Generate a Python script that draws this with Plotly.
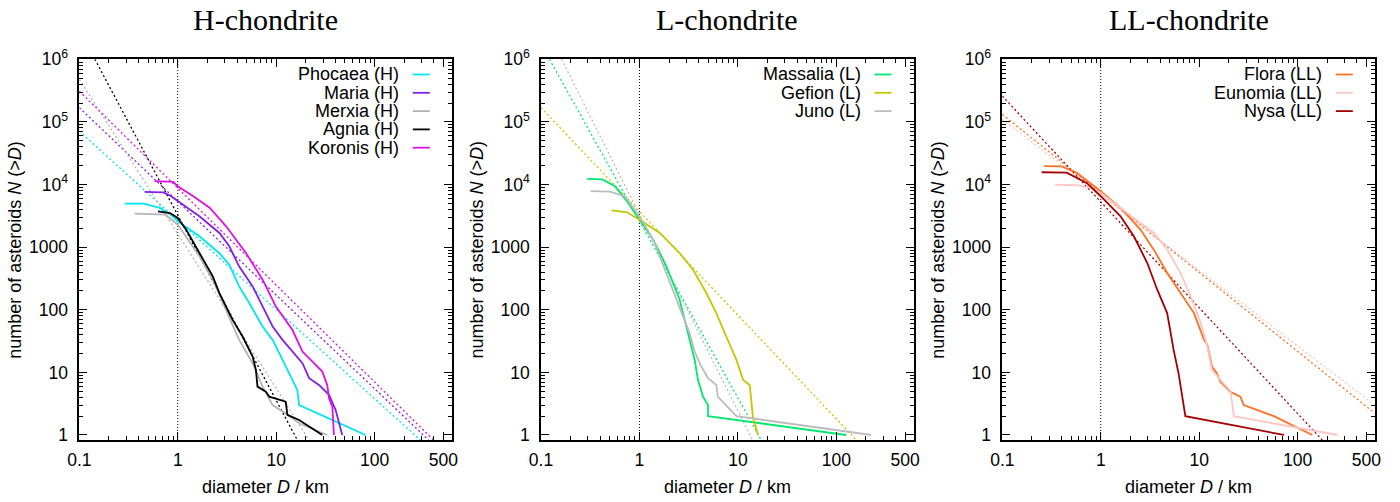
import plotly.graph_objects as go

# ---------------- data ----------------
# Panel 1: H-chondrite
phocaea_D = [0.29, 0.45, 0.66, 0.834, 1.0, 1.66, 2.65, 3.34, 4.2, 5.33, 7.28, 9.2, 11.6, 14.6, 16.4, 17.1, 80.8]
phocaea_N = [4960, 4940, 4230, 3400, 2590, 1490, 800, 525, 236, 128, 54, 33, 15.8, 7.6, 5.25, 3.0, 1.0]
maria_D = [0.46, 0.71, 0.834, 1.0, 1.66, 2.65, 3.34, 4.2, 5.77, 7.28, 9.2, 11.6, 14.6, 18.5, 21.6, 27.2, 34.4, 40.2, 46.9]
maria_N = [7640, 7500, 6670, 5410, 3110, 1685, 1030, 493, 236, 113, 54, 33, 21.5, 14, 8.07, 6.3, 4.37, 2.5, 1.0]
merxia_D = [0.366, 0.75, 1.0, 1.66, 2.27, 3.1, 4.2, 5.77, 7.28, 9.2, 12.5, 17.1, 33.0]
merxia_N = [3440, 3300, 2290, 713, 302, 100, 33, 14, 5.9, 3.0, 2.2, 1.54, 1.0]
agnia_D = [0.63, 0.834, 1.0, 1.22, 1.66, 2.27, 2.65, 3.1, 3.61, 4.56, 5.77, 6.22, 6.46, 7.85, 8.5, 12.5, 13.0, 17.1, 29.4]
agnia_N = [3740, 3500, 2930, 1905, 807, 341, 185, 113, 69, 37.4, 17.9, 11, 5.93, 4.93, 4.1, 3.4, 2.09, 1.74, 1.0]
koronis_D = [0.583, 0.9, 1.0, 1.44, 2.12, 3.1, 4.93, 7.28, 9.93, 14.6, 18.5, 23.3, 29.4, 33.0, 34.4, 37.2, 38.6]
koronis_N = [11300, 11000, 9400, 6500, 4230, 2150, 807, 302, 113, 47.9, 21.5, 14.9, 10.3, 6.3, 3.86, 2.84, 1.0]

# power-law fits (end points)
phocaea_fit_D, phocaea_fit_N = [0.1, 291], [7.1e4, 0.83]
maria_fit_D, maria_fit_N = [0.1, 353], [1.69e5, 0.83]
merxia_fit_D, merxia_fit_N = [0.1, 21.6], [4.8e5, 0.83]
agnia_fit_D, agnia_fit_N = [0.144, 16.4], [1e6, 0.83]
koronis_fit_D, koronis_fit_N = [0.1, 397], [3.1e5, 0.83]

# Panel 2: L-chondrite
massalia_D = [0.295, 0.42, 0.564, 0.77, 1.0, 1.38, 1.88, 2.56, 3.24, 3.64, 3.93, 4.42, 4.97, 4.97, 126]
massalia_N = [12300, 12100, 9400, 5090, 2750, 1320, 493, 145, 33, 15.8, 7.6, 4.1, 3.0, 2.0, 1.0]
gefion_D = [0.521, 0.75, 1.0, 1.61, 2.56, 3.5, 4.78, 6.04, 7.62, 9.66, 11.3, 13.2, 14.2, 16.0]
gefion_N = [3880, 3600, 2750, 1685, 807, 437, 185, 88.5, 37.4, 15.8, 7.6, 6.3, 1.96, 1.0]
juno_D = [0.319, 0.5, 0.71, 1.0, 1.38, 1.88, 2.56, 3.24, 3.64, 4.25, 4.98, 6.04, 6.25, 9.66, 226]
juno_N = [7820, 7700, 6500, 3110, 1320, 386, 113, 42, 21.5, 12.4, 8.1, 6.3, 4.1, 2.0, 1.0]

massalia_fit_D, massalia_fit_N = [0.122, 17.3], [1e6, 0.83]
gefion_fit_D, gefion_fit_N = [0.1, 160], [1.69e5, 0.83]
juno_fit_D, juno_fit_N = [0.162, 14.1], [1e6, 0.83]

# Panel 3: LL-chondrite
flora_D = [0.266, 0.4, 0.571, 1.0, 1.59, 2.53, 3.46, 4.73, 6.47, 8.85, 11.2, 12.1, 13.5, 15.1, 16.4, 20.7, 26.2, 28.4, 57.4, 141]
flora_N = [19650, 19500, 15400, 7820, 4230, 1905, 912, 386, 185, 88.5, 33, 27.5, 12.4, 9.7, 7.1, 4.9, 4.1, 3.0, 2.0, 1.0]
eunomia_D = [0.344, 0.6, 0.8, 1.0, 1.59, 2.53, 3.46, 4.73, 6.47, 8.18, 10.4, 12.1, 13.5, 16.4, 20.8, 22.5, 254]
eunomia_N = [10000, 9700, 8800, 7360, 4230, 2440, 1685, 912, 386, 163, 61, 25.9, 11, 7.6, 5.0, 2.0, 1.0]
nysa_D = [0.251, 0.45, 0.72, 1.0, 1.59, 2.17, 2.97, 3.75, 4.73, 5.5, 6.17, 6.7, 7.24, 72.6]
nysa_N = [15700, 15500, 10600, 6500, 3110, 1490, 558, 209, 88.5, 22.9, 9.7, 4.1, 2.0, 1.0]

flora_fit_D, flora_fit_N = [0.1, 608], [1.32e5, 2.22]
eunomia_fit_D, eunomia_fit_N = [0.1, 608], [1.1e5, 3.0]
nysa_fit_D, nysa_fit_N = [0.1, 178], [2.59e5, 0.83]

panel_titles = ["H-chondrite", "L-chondrite", "LL-chondrite"]
x_tickvals = [0.1, 1, 10, 100, 500]
x_ticktext = ["0.1", "1", "10", "100", "500"]
y_tickvals = [1, 10, 100, 1000, 1e4, 1e5, 1e6]
y_ticktext = ["1", "10", "100", "1000", "10<sup>4</sup>", "10<sup>5</sup>", "10<sup>6</sup>"]

panels = [
    [("Phocaea (H)", phocaea_D, phocaea_N, phocaea_fit_D, phocaea_fit_N, "#00e6ee"),
     ("Maria (H)", maria_D, maria_N, maria_fit_D, maria_fit_N, "#8420e4"),
     ("Merxia (H)", merxia_D, merxia_N, merxia_fit_D, merxia_fit_N, "#b4b4b4"),
     ("Agnia (H)", agnia_D, agnia_N, agnia_fit_D, agnia_fit_N, "#000000"),
     ("Koronis (H)", koronis_D, koronis_N, koronis_fit_D, koronis_fit_N, "#e010e4")],
    [("Massalia (L)", massalia_D, massalia_N, massalia_fit_D, massalia_fit_N, "#00e870"),
     ("Gefion (L)", gefion_D, gefion_N, gefion_fit_D, gefion_fit_N, "#c8c400"),
     ("Juno (L)", juno_D, juno_N, juno_fit_D, juno_fit_N, "#bcbcbc")],
    [("Flora (LL)", flora_D, flora_N, flora_fit_D, flora_fit_N, "#ff7020"),
     ("Eunomia (LL)", eunomia_D, eunomia_N, eunomia_fit_D, eunomia_fit_N, "#ffc4c4"),
     ("Nysa (LL)", nysa_D, nysa_N, nysa_fit_D, nysa_fit_N, "#a40000")],
]

# ---------------- layout geometry ----------------
W, H = 1400, 502
left_px = [79.3, 541.0, 1002.3]
pw = 372.5
top_px, bot_px = 59.3, 440.0
ydom = [1 - bot_px / H, 1 - top_px / H]

FONT = "Liberation Sans, Arial, Helvetica, sans-serif"
SERIF = "Liberation Serif, Times New Roman, serif"

minor_x = []
for dec in [0.1, 1, 10, 100]:
    for k in range(2, 10):
        minor_x.append(k * dec)
minor_y = []
for dec in [1, 10, 100, 1000, 1e4, 1e5]:
    for k in range(2, 10):
        minor_y.append(k * dec)

fig = go.Figure()
annotations = []
shapes = []

for i, series in enumerate(panels):
    n = "" if i == 0 else str(i + 1)
    xa, ya = "x" + n, "y" + n
    # fit lines first
    for name, D, N, fD, fN, col in series:
        fig.add_trace(go.Scatter(x=fD, y=fN, xaxis=xa, yaxis=ya, mode="lines",
                                 line=dict(color=col, width=1.3, dash="2px,2.5px"),
                                 showlegend=False, hoverinfo="skip"))
    for name, D, N, fD, fN, col in series:
        fig.add_trace(go.Scatter(x=D, y=N, xaxis=xa, yaxis=ya, mode="lines",
                                 line=dict(color=col, width=1.8),
                                 name=name, showlegend=False))
    x0 = left_px[i] / W
    x1 = (left_px[i] + pw) / W
    axcommon = dict(type="log", showline=True, linecolor="black", linewidth=1.5,
                    mirror="allticks", ticks="inside", ticklen=8, tickwidth=1,
                    tickcolor="black", showgrid=False, zeroline=False, automargin=False,
                    tickfont=dict(family=FONT, size=17.5, color="black"),
                    tickmode="array")
    fig.update_layout(**{
        "xaxis" + n: dict(axcommon, domain=[x0, x1], range=[-1, 2.784], anchor=ya,
                          tickvals=x_tickvals, ticktext=x_ticktext, ticklabelstandoff=3,
                          minor=dict(ticks="inside", ticklen=4, tickvals=minor_x,
                                     tickcolor="black", tickwidth=1, showgrid=False)),
        "yaxis" + n: dict(axcommon, domain=ydom, range=[-0.08, 6.0], anchor=xa,
                          tickvals=y_tickvals, ticktext=y_ticktext, ticklabelstandoff=6,
                          minor=dict(ticks="inside", ticklen=4, tickvals=minor_y,
                                     tickcolor="black", tickwidth=1, showgrid=False)),
    })
    # vertical dotted line at D = 1 km
    shapes.append(dict(type="line", xref=xa, yref=ya + " domain", x0=1, x1=1, y0=0, y1=1,
                       line=dict(color="black", width=1, dash="1px,2px"), layer="below"))
    # titles
    cx = (left_px[i] + pw / 2) / W
    annotations.append(dict(text=panel_titles[i], xref="paper", yref="paper", x=cx,
                            y=1 - 20 / H, xanchor="center", yanchor="middle", showarrow=False,
                            font=dict(family=SERIF, size=30, color="black")))
    annotations.append(dict(text="diameter <i>D</i> / km", xref="paper", yref="paper", x=cx,
                            y=1 - 487 / H, xanchor="center", yanchor="middle", showarrow=False,
                            font=dict(family=FONT, size=18, color="black")))
    annotations.append(dict(text="number of asteroids <i>N</i> (&gt;<i>D</i>)", xref="paper",
                            yref="paper", x=(left_px[i] - 64.5) / W, y=1 - 250 / H,
                            xanchor="center", yanchor="middle", textangle=-90, showarrow=False,
                            font=dict(family=FONT, size=18, color="black")))
    # legend (text then sample line, gnuplot style)
    right = left_px[i] + pw
    for j, (name, D, N, fD, fN, col) in enumerate(series):
        ypx = 74.5 + 18.3 * j
        annotations.append(dict(text=name, xref="paper", yref="paper", x=(right - 50.5) / W,
                                y=1 - ypx / H, xanchor="right", yanchor="middle",
                                showarrow=False, font=dict(family=FONT, size=18, color="black")))
        shapes.append(dict(type="line", xref="paper", yref="paper",
                           x0=(right - 39) / W, x1=(right - 22) / W,
                           y0=1 - ypx / H, y1=1 - ypx / H, line=dict(color=col, width=1.8)))

fig.update_layout(width=W, height=H, margin=dict(l=0, r=0, t=0, b=0),
                  paper_bgcolor="white", plot_bgcolor="white",
                  annotations=annotations, shapes=shapes, showlegend=False)

fig.write_html("out.html")
